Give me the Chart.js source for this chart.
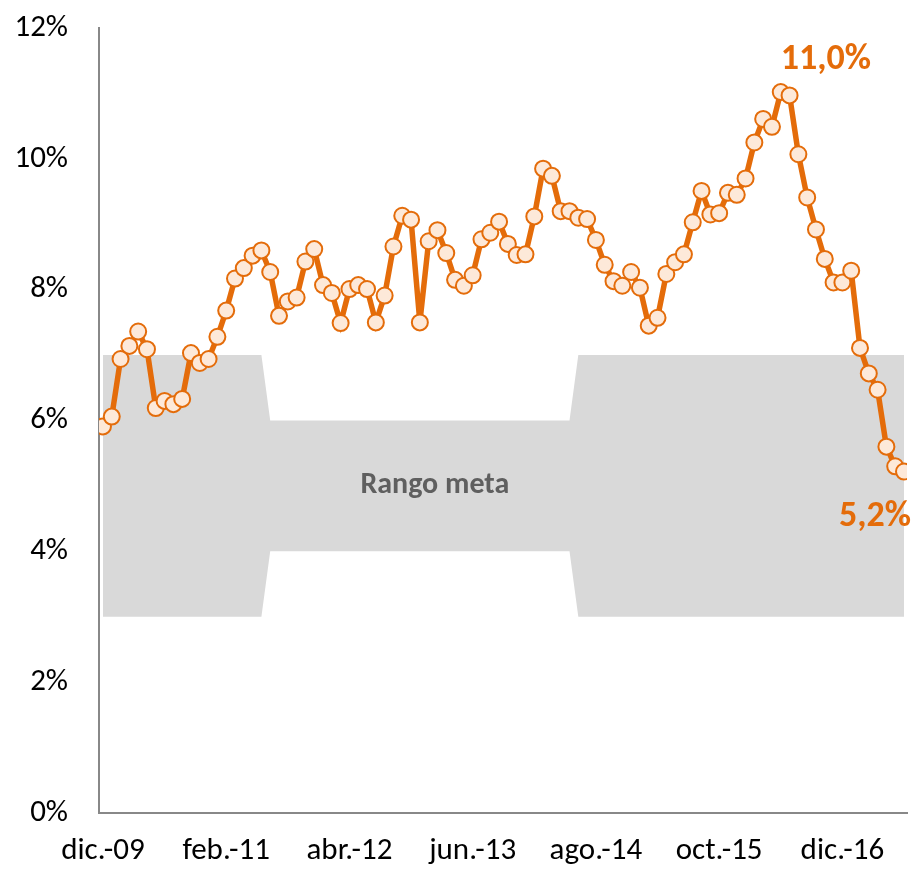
<!DOCTYPE html>
<html>
<head>
<meta charset="utf-8">
<script src="https://cdn.jsdelivr.net/npm/chart.js@4.4.1/dist/chart.umd.min.js"></script>
<style>
  html, body { margin: 0; padding: 0; background: #ffffff; }
  #c { display: block; }
</style>
</head>
<body>
<canvas id="c" width="917" height="869" style="width:917px;height:869px"></canvas>
<script>
// ---- DATA ----
const months = [
  'dic.-09',
  'ene.-10','feb.-10','mar.-10','abr.-10','may.-10','jun.-10','jul.-10','ago.-10','sep.-10','oct.-10','nov.-10','dic.-10',
  'ene.-11','feb.-11','mar.-11','abr.-11','may.-11','jun.-11','jul.-11','ago.-11','sep.-11','oct.-11','nov.-11','dic.-11',
  'ene.-12','feb.-12','mar.-12','abr.-12','may.-12','jun.-12','jul.-12','ago.-12','sep.-12','oct.-12','nov.-12','dic.-12',
  'ene.-13','feb.-13','mar.-13','abr.-13','may.-13','jun.-13','jul.-13','ago.-13','sep.-13','oct.-13','nov.-13','dic.-13',
  'ene.-14','feb.-14','mar.-14','abr.-14','may.-14','jun.-14','jul.-14','ago.-14','sep.-14','oct.-14','nov.-14','dic.-14',
  'ene.-15','feb.-15','mar.-15','abr.-15','may.-15','jun.-15','jul.-15','ago.-15','sep.-15','oct.-15','nov.-15','dic.-15',
  'ene.-16','feb.-16','mar.-16','abr.-16','may.-16','jun.-16','jul.-16','ago.-16','sep.-16','oct.-16','nov.-16','dic.-16',
  'ene.-17','feb.-17','mar.-17','abr.-17','may.-17','jun.-17','jul.-17'
];

// Inflación interanual (%)
const inflation = [
  5.91,
  6.06, 6.94, 7.14, 7.36, 7.09, 6.19, 6.30, 6.25, 6.33, 7.03, 6.88, 6.94,
  7.28, 7.68, 8.17, 8.33, 8.52, 8.60, 8.27, 7.60, 7.82, 7.88, 8.43, 8.62,
  8.07, 7.95, 7.49, 8.01, 8.07, 8.01, 7.50, 7.91, 8.66, 9.13, 9.07, 7.50,
  8.74, 8.91, 8.56, 8.15, 8.06, 8.22, 8.77, 8.87, 9.04, 8.70, 8.53, 8.54,
  9.12, 9.85, 9.74, 9.20, 9.20, 9.10, 9.08, 8.76, 8.38, 8.13, 8.06, 8.27,
  8.03, 7.45, 7.57, 8.24, 8.42, 8.54, 9.03, 9.51, 9.15, 9.17, 9.48, 9.45,
  9.70, 10.25, 10.61, 10.49, 11.02, 10.97, 10.07, 9.41, 8.92, 8.47, 8.11, 8.11,
  8.29, 7.11, 6.72, 6.47, 5.60, 5.30, 5.22
];

// Rango meta: límite superior e inferior (%)
const bandHigh = [
  7,
  7,7,7,7,7,7,7,7,7,7,7,7,
  7,7,7,7,7,7,6,6,6,6,6,6,
  6,6,6,6,6,6,6,6,6,6,6,6,
  6,6,6,6,6,6,6,6,6,6,6,6,
  6,6,6,6,6,7,7,7,7,7,7,7,
  7,7,7,7,7,7,7,7,7,7,7,7,
  7,7,7,7,7,7,7,7,7,7,7,7,
  7,7,7,7,7,7,7
];
const bandLow = [
  3,
  3,3,3,3,3,3,3,3,3,3,3,3,
  3,3,3,3,3,3,4,4,4,4,4,4,
  4,4,4,4,4,4,4,4,4,4,4,4,
  4,4,4,4,4,4,4,4,4,4,4,4,
  4,4,4,4,4,3,3,3,3,3,3,3,
  3,3,3,3,3,3,3,3,3,3,3,3,
  3,3,3,3,3,3,3,3,3,3,3,3,
  3,3,3,3,3,3,3
];

const tickLabels = ['dic.-09','feb.-11','abr.-12','jun.-13','ago.-14','oct.-15','dic.-16'];
const yTicks = [0, 2, 4, 6, 8, 10, 12];
const bandText = 'Rango meta';

// ---- STYLE ----
const FONT = 'Carlito, Calibri, Lato, sans-serif';
const ORANGE = '#E46C0A';
const POINT_FILL = '#FDE9D9';
const BAND = '#D9D9D9';
const AXIS = '#888888';

const toXY = arr => arr.map((v, i) => ({ x: i, y: v }));
const fmt = v => v.toFixed(1).replace('.', ',') + '%';

const annotate = {
  id: 'annotate',
  afterDatasetsDraw(chart) {
    const { ctx, scales: { x, y } } = chart;
    ctx.save();
    ctx.font = 'bold 30px ' + FONT;
    ctx.fillStyle = '#5F5F5F';
    ctx.textAlign = 'center';
    ctx.textBaseline = 'middle';
    ctx.fillText(bandText, x.getPixelForValue(37.7), y.getPixelForValue(5));
    let maxI = 0;
    inflation.forEach((v, i) => { if (v > inflation[maxI]) maxI = i; });
    const lastI = inflation.length - 1;
    ctx.font = 'bold 36px ' + FONT;
    ctx.fillStyle = ORANGE;
    ctx.fillText(fmt(inflation[maxI]), x.getPixelForValue(maxI) + 45, y.getPixelForValue(inflation[maxI]) - 32);
    ctx.fillText(fmt(inflation[lastI]), x.getPixelForValue(lastI) - 29, y.getPixelForValue(inflation[lastI]) + 45);
    ctx.restore();
  }
};

new Chart(document.getElementById('c'), {
  type: 'line',
  data: {
    datasets: [
      {
        label: 'Inflación',
        data: toXY(inflation),
        borderColor: ORANGE,
        borderWidth: 5.5,
        backgroundColor: POINT_FILL,
        pointBackgroundColor: POINT_FILL,
        pointBorderColor: ORANGE,
        pointBorderWidth: 2,
        pointRadius: 8,
        tension: 0,
        fill: false
      },
      {
        label: 'Rango meta sup',
        data: toXY(bandHigh),
        borderWidth: 0,
        pointRadius: 0,
        backgroundColor: BAND,
        fill: '+1',
        tension: 0
      },
      {
        label: 'Rango meta inf',
        data: toXY(bandLow),
        borderWidth: 0,
        pointRadius: 0,
        fill: false,
        tension: 0
      }
    ]
  },
  options: {
    responsive: false,
    animation: false,
    devicePixelRatio: 1,
    layout: { padding: { top: 28, right: 7, left: 0, bottom: 0 } },
    plugins: { legend: { display: false }, tooltip: { enabled: false } },
    scales: {
      x: {
        type: 'linear',
        min: -0.45,
        max: inflation.length - 1 + 0.34,
        grid: { display: false, drawTicks: false },
        border: { display: true, color: AXIS, width: 2 },
        afterBuildTicks: s => { s.ticks = tickLabels.map(l => ({ value: months.indexOf(l) })); },
        afterFit: s => { s.height = 56; s.paddingLeft = 0; s.paddingRight = 0; },
        ticks: {
          autoSkip: false,
          maxRotation: 0,
          padding: 20,
          color: '#000000',
          font: { family: FONT, size: 31 },
          callback: v => months[v]
        }
      },
      y: {
        min: 0,
        max: 12,
        grid: { display: false, drawTicks: false },
        border: { display: true, color: AXIS, width: 2 },
        afterBuildTicks: s => { s.ticks = yTicks.map(v => ({ value: v })); },
        afterFit: s => { s.width = 99; s.paddingTop = 0; s.paddingBottom = 0; },
        ticks: {
          padding: 31,
          color: '#000000',
          font: { family: FONT, size: 31 },
          callback: v => v + '%'
        }
      }
    }
  },
  plugins: [annotate]
});
</script>
</body>
</html>
